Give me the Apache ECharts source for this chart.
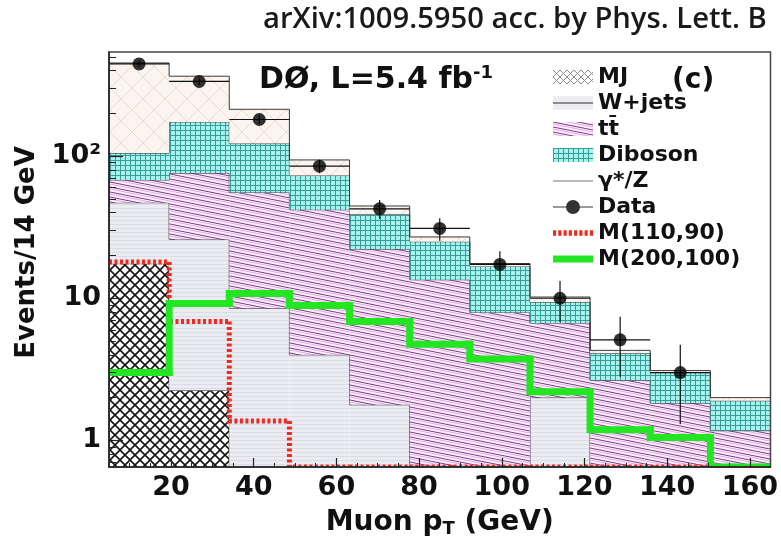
<!DOCTYPE html>
<html><head><meta charset="utf-8">
<script src="https://cdn.jsdelivr.net/npm/echarts@6/dist/echarts.min.js"></script>
<style>html,body{margin:0;padding:0;background:#fff}#c{width:781px;height:543px}</style>
</head><body><div id="c"></div>
<script>
// ---- data ----
const binLow  = [5, 19.55, 34.09, 48.64, 63.18, 77.73, 92.27, 106.82, 121.36, 135.91, 150.45];
const binHigh = [19.55, 34.09, 48.64, 63.18, 77.73, 92.27, 106.82, 121.36, 135.91, 150.45, 165];
const mjVals      = [17.5, 2.25, 0, 0, 0, 0, 0, 0, 0, 0, 0];
const wjetsVals   = [29.5, 23.7, 8.5, 4.0, 1.78, 0.5, 0.45, 2.0, 0.3, 0.3, 0.2];
const ttbarVals   = [21, 50, 47, 38, 20.4, 13, 7.5, 4.7, 2.35, 1.53, 0.97];
const dibosonVals = [37, 98, 67, 31, 16.8, 11.5, 8.8, 2.7, 1.45, 1.17, 0.73];
const zgVals      = [347, 191, 91, 21, 5.6, 2.0, 0.8, 0.8, 0.2, 0.1, 0.1];
const dataVals    = [445, 335, 181, 85, 42.6, 31, 17.3, 10, 5.1, 3.0];
const dataErr     = [21, 18, 13.5, 9.2, 6.5, 5.6, 4.1, 3.2, 2.3, 1.7];
const sigA        = [18, 6.85, 1.37, 0, 0, 0, 0, 0, 0, 0];        // M(110,90)
const sigB        = [3.0, 9.2, 10.8, 8.9, 6.85, 4.74, 3.74, 2.2, 1.19, 1.05, 0]; // M(200,100)
const xMajorTicks = [20, 40, 60, 80, 100, 120, 140, 160];
const xMinorTicks = [10, 15, 25, 30, 35, 45, 50, 55, 65, 70, 75, 85, 90, 95, 105, 110, 115, 125, 130, 135, 145, 150, 155];
const yMajorTicks = [1, 10, 100];
const yMinorTicks = [0.7, 0.8, 0.9, 2, 3, 4, 5, 6, 7, 8, 9, 20, 30, 40, 50, 60, 70, 80, 90, 200, 300, 400, 500];
const yTickText = {1: '1', 10: '10', 100: '10²'};

const Y_MIN = 0.65, Y_MAX = 540, X_MIN = 5, X_MAX = 165;

// ---- fill patterns ----
function makePattern(w, h, draw) {
  const c = document.createElement('canvas'); c.width = w; c.height = h;
  const g = c.getContext('2d'); draw(g, w, h);
  return {image: c, repeat: 'repeat'};
}
const patMJ = makePattern(10, 10, (g, w, h) => {
  g.fillStyle = '#ffffff'; g.fillRect(0, 0, w, h);
  g.strokeStyle = '#151515'; g.lineWidth = 1.6;
  g.beginPath(); g.moveTo(-2, -2); g.lineTo(w + 2, h + 2); g.moveTo(w + 2, -2); g.lineTo(-2, h + 2); g.stroke();
});
const patMJLegend = makePattern(7, 7, (g, w, h) => {
  g.fillStyle = '#ffffff'; g.fillRect(0, 0, w, h);
  g.strokeStyle = '#8a8a8a'; g.lineWidth = 1;
  g.beginPath(); g.moveTo(-2, -2); g.lineTo(w + 2, h + 2); g.moveTo(w + 2, -2); g.lineTo(-2, h + 2); g.stroke();
});
const patW = makePattern(4, 4, (g, w, h) => {
  g.fillStyle = '#ebebf2'; g.fillRect(0, 0, w, h);
  g.fillStyle = '#dcdce6'; g.fillRect(0, 0, w, 1);
});
const patWLegend = makePattern(4, 14, (g, w, h) => {
  g.fillStyle = '#ececf1'; g.fillRect(0, 0, w, h);
  g.fillStyle = '#8c8c94'; g.fillRect(0, 6, w, 2);
});
const patTT = makePattern(25, 5, (g, w, h) => {
  g.fillStyle = '#fcf2fb'; g.fillRect(0, 0, w, h);
  [-h, 0, h].forEach(o => {
    g.strokeStyle = '#7a3a8c'; g.lineWidth = 1;
    g.beginPath(); g.moveTo(0, o); g.lineTo(w, o + h); g.stroke();
  });
  [-h + 2, 2, h + 2].forEach(o => {
    g.strokeStyle = '#e7a6e6'; g.lineWidth = 1;
    g.beginPath(); g.moveTo(0, o); g.lineTo(w, o + h); g.stroke();
  });
});
const patDB = makePattern(5, 5, (g, w, h) => {
  g.fillStyle = '#a6f2ec'; g.fillRect(0, 0, w, h);
  g.fillStyle = '#3a9c9a'; g.fillRect(0, 0, w, 1); g.fillRect(0, 0, 1, h);
});
const patZ = makePattern(22, 22, (g, w, h) => {
  g.fillStyle = '#fcf4ee'; g.fillRect(0, 0, w, h);
  g.strokeStyle = '#e9dcd3'; g.lineWidth = 1;
  g.beginPath(); g.moveTo(-2, -2); g.lineTo(w + 2, h + 2); g.moveTo(w + 2, -2); g.lineTo(-2, h + 2); g.stroke();
});

// ---- stacking ----
const layers = [
  {name: 'MJ', vals: mjVals, fill: patMJ},
  {name: 'W+jets', vals: wjetsVals, fill: patW},
  {name: 't\u0074\u0304', vals: ttbarVals, fill: patTT},
  {name: 'Diboson', vals: dibosonVals, fill: patDB},
  {name: 'γ*/Z', vals: zgVals, fill: patZ}
];
let base = binLow.map(() => 0);
layers.forEach(L => {
  L.lo = base.slice();
  L.hi = base.map((b, i) => b + L.vals[i]);
  base = L.hi;
});
const clampY = v => Math.min(Math.max(v, Y_MIN), Y_MAX);
const OUTLINE = '#3a3a3a';

function stackRender(L) {
  return function (params, api) {
    const i = params.dataIndex;
    const lo = clampY(L.lo[i]), hi = clampY(L.hi[i]);
    const ch = [];
    if (hi > lo) {
      const p1 = api.coord([binLow[i], hi]), p2 = api.coord([binHigh[i], lo]);
      ch.push({type: 'rect', shape: {x: p1[0], y: p1[1], width: p2[0] - p1[0], height: p2[1] - p1[1]},
               style: {fill: L.fill}});
    }
    if (L.hi[i] > Y_MIN) {
      const a = api.coord([binLow[i], hi]), b = api.coord([binHigh[i], hi]);
      ch.push({type: 'line', shape: {x1: a[0], y1: a[1], x2: b[0], y2: b[1]}, style: {stroke: OUTLINE, lineWidth: 1}});
    }
    const prev = i > 0 ? clampY(L.hi[i - 1]) : Y_MIN;
    if (Math.abs(prev - hi) > 1e-9) {
      const a = api.coord([binLow[i], prev]), b = api.coord([binLow[i], hi]);
      ch.push({type: 'line', shape: {x1: a[0], y1: a[1], x2: b[0], y2: b[1]}, style: {stroke: OUTLINE, lineWidth: 1}});
    }
    return {type: 'group', children: ch};
  };
}

function stepRender(vals, stroke, width, dash) {
  return function (params, api) {
    const i = params.dataIndex;
    const v = clampY(vals[i]);
    const pts = [];
    if (i > 0) pts.push(api.coord([binLow[i], clampY(vals[i - 1])]));
    pts.push(api.coord([binLow[i], v]));
    pts.push(api.coord([binHigh[i], v]));
    return {type: 'polyline', shape: {points: pts},
            style: {stroke: stroke, lineWidth: width, fill: null, lineDash: dash || null, lineCap: dash ? 'butt' : 'square'}};
  };
}

const series = layers.map(L => ({
  name: L.name, type: 'custom', xAxisIndex: 0, yAxisIndex: 0, clip: true, z: 2,
  itemStyle: {color: L.fill},
  renderItem: stackRender(L),
  encode: {x: 0, y: 1},
  data: binLow.map((x, i) => [x, Math.max(L.hi[i], Y_MIN)])
}));

series.push({
  name: 'Data-err', type: 'custom', clip: true, z: 5, silent: true,
  renderItem: function (params, api) {
    const i = params.dataIndex;
    const v = dataVals[i], e = dataErr[i];
    const xc = (binLow[i] + binHigh[i]) / 2;
    const a = api.coord([binLow[i], v]), b = api.coord([binHigh[i], v]);
    const c = api.coord([xc, clampY(v + e)]), d = api.coord([xc, clampY(v - e)]);
    return {type: 'group', children: [
      {type: 'line', shape: {x1: a[0], y1: a[1], x2: b[0], y2: b[1]}, style: {stroke: '#111', lineWidth: 1.2}},
      {type: 'line', shape: {x1: c[0], y1: c[1], x2: d[0], y2: d[1]}, style: {stroke: '#111', lineWidth: 1.2}}
    ]};
  },
  encode: {x: 0, y: 1},
  data: dataVals.map((v, i) => [(binLow[i] + binHigh[i]) / 2, v])
});
series.push({
  name: 'M(110,90)', type: 'custom', clip: true, z: 6,
  itemStyle: {color: '#ee2a1e'},
  renderItem: stepRender(sigA, '#ee2a1e', 5, [3, 2.5]),
  encode: {x: 0, y: 1},
  data: sigA.map((v, i) => [binLow[i], Math.max(v, Y_MIN)])
});
series.push({
  name: 'M(200,100)', type: 'custom', clip: true, z: 7,
  itemStyle: {color: '#22e622'},
  renderItem: stepRender(sigB, '#22e622', 7, null),
  encode: {x: 0, y: 1},
  data: sigB.map((v, i) => [binLow[i], Math.max(v, Y_MIN)])
});
series.push({
  name: 'Data', type: 'scatter', z: 8,
  symbol: 'circle', symbolSize: 13,
  itemStyle: {color: '#000'},
  data: dataVals.map((v, i) => [(binLow[i] + binHigh[i]) / 2, v])
});

const FONT = 'DejaVu Sans';
let redIcon = 'path://';
for (let k = 0; k < 8; k++) redIcon += 'M' + (k * 5) + ',0h3v5h-3z ';

const option = {
  animation: false,
  backgroundColor: '#ffffff',
  title: [
    {text: 'arXiv:1009.5950 acc. by Phys. Lett. B', left: 258, top: 0,
     textStyle: {fontFamily: 'Open Sans', fontWeight: 600, fontSize: 29.2, color: '#1a1a1a'}},
    {text: '{a|DØ, L=5.4 fb}{s|-1}', left: 254, top: 59,
     textStyle: {rich: {
       a: {fontFamily: FONT, fontWeight: 'bold', fontSize: 30, color: '#111'},
       s: {fontFamily: FONT, fontWeight: 'bold', fontSize: 18, color: '#111', verticalAlign: 'top', padding: [0, 0, 14, 0]}
     }}},
    {text: '(c)', left: 667, top: 62,
     textStyle: {fontFamily: FONT, fontWeight: 'bold', fontSize: 28, color: '#111'}}
  ],
  legend: {
    orient: 'vertical', left: 548, top: 61, itemWidth: 40, itemHeight: 14, itemGap: 4,
    textStyle: {fontFamily: FONT, fontWeight: 'bold', fontSize: 22, color: '#111', lineHeight: 22},
    data: [
      {name: 'MJ', icon: 'rect', itemStyle: {color: patMJLegend}},
      {name: 'W+jets', icon: 'rect', itemStyle: {color: patWLegend}},
      {name: 't\u0074\u0304', icon: 'rect'},
      {name: 'Diboson', icon: 'rect'},
      {name: 'γ*/Z', icon: 'path://M0,6.5h40v1.2h-40z', itemStyle: {color: '#777'}},
      {name: 'Data', icon: 'path://M0,6.4H40V7.6H0Z M27,7A7,7 0 1 1 13,7A7,7 0 1 1 27,7Z'},
      {name: 'M(110,90)', icon: redIcon},
      {name: 'M(200,100)', icon: 'path://M0,0h40v7h-40z'}
    ]
  },
  grid: {left: 109, right: 9, top: 52, bottom: 68, show: true, borderColor: '#444', borderWidth: 1.5, backgroundColor: 'transparent', z: 10},
  xAxis: [
    {type: 'value', min: X_MIN, max: X_MAX, z: 10,
     name: 'Muon p{t|T} (GeV)', nameLocation: 'middle', nameGap: 40,
     nameTextStyle: {fontFamily: FONT, fontWeight: 'bold', fontSize: 28, color: '#111',
       rich: {t: {fontFamily: FONT, fontWeight: 'bold', fontSize: 18, color: '#111', verticalAlign: 'bottom', padding: [13, 0, 0, 0]}}},
     axisLine: {show: true, lineStyle: {color: '#222', width: 1.5}},
     axisTick: {show: true, inside: true, length: 9, customValues: xMajorTicks, lineStyle: {color: '#222', width: 1.2}},
     axisLabel: {show: true, customValues: xMajorTicks, margin: 7, fontFamily: FONT, fontWeight: 'bold', fontSize: 27, color: '#111'},
     splitLine: {show: false}},
    {type: 'value', min: X_MIN, max: X_MAX, z: 10, position: 'bottom',
     axisLine: {show: false},
     axisTick: {show: true, inside: true, length: 4, customValues: xMinorTicks, lineStyle: {color: '#222', width: 1}},
     axisLabel: {show: false}, splitLine: {show: false}}
  ],
  yAxis: [
    {type: 'log', logBase: 10, min: Y_MIN, max: Y_MAX, z: 10,
     name: 'Events/14 GeV', nameLocation: 'middle', nameGap: 64, nameRotate: 90,
     nameTextStyle: {fontFamily: FONT, fontWeight: 'bold', fontSize: 26, color: '#111', padding: [0, 0, 0, 14]},
     axisLine: {show: true, lineStyle: {color: '#222', width: 1.5}},
     axisTick: {show: true, inside: true, length: 14, customValues: yMajorTicks, lineStyle: {color: '#222', width: 1.2}},
     axisLabel: {show: true, customValues: yMajorTicks, margin: 8, fontFamily: FONT, fontWeight: 'bold', fontSize: 27, color: '#111',
       formatter: v => { for (const k of yMajorTicks) { if (Math.abs(v - k) < 1e-6 * k) return yTickText[k]; } return ''; }},
     splitLine: {show: false}},
    {type: 'log', logBase: 10, min: Y_MIN, max: Y_MAX, z: 10, position: 'left',
     axisLine: {show: false},
     axisTick: {show: true, inside: true, length: 7, customValues: yMinorTicks, lineStyle: {color: '#222', width: 1}},
     axisLabel: {show: false}, splitLine: {show: false}}
  ],
  series: series
};
const chart = echarts.init(document.getElementById('c'), null, {renderer: 'canvas'});
chart.setOption(option);
</script></body></html>
